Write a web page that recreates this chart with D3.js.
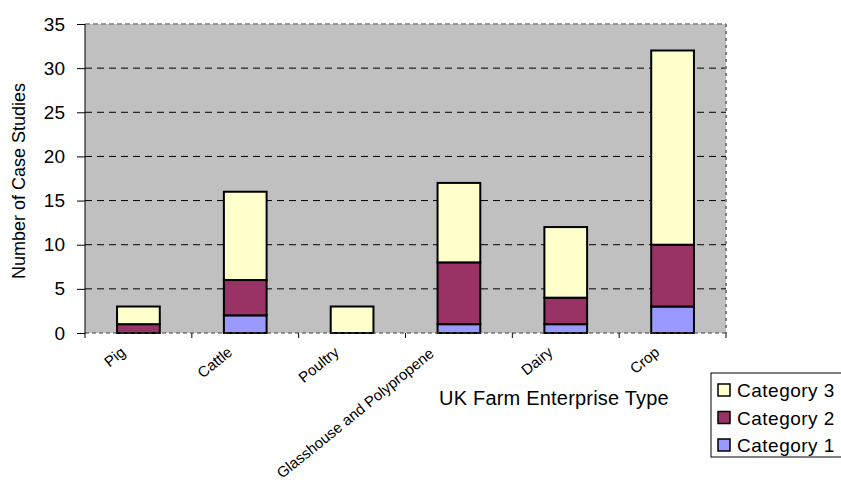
<!DOCTYPE html>
<html>
<head>
<meta charset="utf-8">
<script src="https://cdn.jsdelivr.net/npm/d3@7"></script>
<style>
  body { margin: 0; background: #fff; }
  text { font-family: "Liberation Sans", Arial, sans-serif; fill: #000; }
</style>
</head>
<body>
<svg id="chart" width="841" height="484"></svg>
<script>
'use strict';
var farmTypes = ['Pig', 'Cattle', 'Poultry', 'Glasshouse and Polypropene', 'Dairy', 'Crop'];
var category1 = [0, 2, 0, 1, 1, 3];
var category2 = [1, 4, 0, 7, 3, 7];
var category3 = [2, 10, 3, 9, 8, 22];
var seriesNames = ['Category 1', 'Category 2', 'Category 3'];
var seriesColors = ['#9999ff', '#993366', '#ffffcc'];
var yTicks = [0, 5, 10, 15, 20, 25, 30, 35];

var rows = farmTypes.map(function(t, i) {
  return { type: t, 'Category 1': category1[i], 'Category 2': category2[i], 'Category 3': category3[i] };
});

var plotL = 85, plotR = 726, plotT = 24, plotB = 333;
var svg = d3.select('#chart');

var x = d3.scaleBand().domain(farmTypes).range([plotL, plotR]).paddingInner(0.6).paddingOuter(0.3);
var y = d3.scaleLinear().domain([0, 35]).range([plotB, plotT]);

// plot background
svg.append('rect')
  .attr('x', plotL).attr('y', plotT)
  .attr('width', plotR - plotL).attr('height', plotB - plotT)
  .attr('fill', '#c0c0c0');

// gridlines
svg.append('g').selectAll('line')
  .data(yTicks.slice(1, -1))
  .enter().append('line')
  .attr('x1', plotL).attr('x2', plotR)
  .attr('y1', function(d) { return y(d); }).attr('y2', function(d) { return y(d); })
  .attr('stroke', '#000').attr('stroke-dasharray', '7,5');

// border top / right
svg.append('path')
  .attr('d', 'M' + plotL + ',' + plotT + 'H' + plotR)
  .attr('fill', 'none').attr('stroke', '#808080').attr('stroke-width', 1.5)
  .attr('stroke-dasharray', '5,3');
svg.append('path')
  .attr('d', 'M' + plotR + ',' + plotT + 'V' + plotB)
  .attr('fill', 'none').attr('stroke', '#808080').attr('stroke-width', 2)
  .attr('stroke-dasharray', '3,4');

var stack = d3.stack().keys(seriesNames);
var layers = stack(rows);

svg.append('g').selectAll('g')
  .data(layers)
  .enter().append('g')
  .attr('fill', function(d, i) { return seriesColors[i]; })
  .selectAll('rect')
  .data(function(d) { return d.filter(function(p) { return p[1] > p[0]; }); })
  .enter().append('rect')
  .attr('x', function(d) { return x(d.data.type); })
  .attr('width', x.bandwidth())
  .attr('y', function(d) { return y(d[1]); })
  .attr('height', function(d) { return y(d[0]) - y(d[1]); })
  .attr('stroke', '#000').attr('stroke-width', 2);

// bottom baseline (dashed)
svg.append('line')
  .attr('x1', plotL).attr('x2', plotR).attr('y1', plotB).attr('y2', plotB)
  .attr('stroke', '#404040').attr('stroke-dasharray', '4,3');

// y axis
var yAxis = d3.axisLeft(y).tickValues(yTicks).tickSize(8).tickPadding(12);
var yg = svg.append('g').attr('transform', 'translate(' + plotL + ',0)').call(yAxis);
yg.select('.domain').attr('stroke', '#000').attr('d', 'M0,' + plotT + 'V' + plotB);
yg.selectAll('.tick line').attr('stroke', '#000');
yg.selectAll('text').style('font-size', '19px').style('font-family', 'Liberation Sans, Arial, sans-serif');

// x axis ticks at band boundaries
var step = x.step();
var bounds = farmTypes.map(function(t) { return x(t) - (step - x.bandwidth()) / 2; });
bounds.push(plotR);
svg.append('g').selectAll('line')
  .data(bounds)
  .enter().append('line')
  .attr('x1', function(d) { return d; }).attr('x2', function(d) { return d; })
  .attr('y1', plotB).attr('y2', plotB + 5)
  .attr('stroke', '#000');

svg.append('g').selectAll('text')
  .data(farmTypes)
  .enter().append('text')
  .attr('transform', function(d) {
    var extra = d.length > 12 ? 12 : 0;
    return 'translate(' + (x(d) + x.bandwidth() / 2 - 12 - extra) + ',' + (plotB + 21 + extra * 0.1) + ') rotate(-39)';
  })
  .attr('text-anchor', 'end')
  .style('font-size', '15px')
  .text(function(d) { return d; });

// axis titles
svg.append('text')
  .attr('x', 554).attr('y', 405)
  .attr('text-anchor', 'middle')
  .style('font-size', '20px').style('letter-spacing', '0.2px')
  .text('UK Farm Enterprise Type');

svg.append('text')
  .attr('transform', 'translate(25,181) rotate(-90)')
  .attr('text-anchor', 'middle')
  .style('font-size', '18px')
  .text('Number of Case Studies');

// legend
var legend = svg.append('g').attr('transform', 'translate(711,373)');
legend.append('rect')
  .attr('width', 135).attr('height', 84)
  .attr('fill', '#fff').attr('stroke', '#000');
var legendItems = seriesNames.slice().reverse();
var li = legend.selectAll('g.item')
  .data(legendItems)
  .enter().append('g')
  .attr('class', 'item')
  .attr('transform', function(d, i) { return 'translate(7,' + (11 + i * 27.5) + ')'; });
li.append('rect')
  .attr('width', 12).attr('height', 12)
  .attr('fill', function(d) { return seriesColors[seriesNames.indexOf(d)]; })
  .attr('stroke', '#000').attr('stroke-width', 1.5);
li.append('text')
  .attr('x', 19).attr('y', 13)
  .style('font-size', '19px').style('letter-spacing', '0.5px')
  .text(function(d) { return d; });
</script>
</body>
</html>
